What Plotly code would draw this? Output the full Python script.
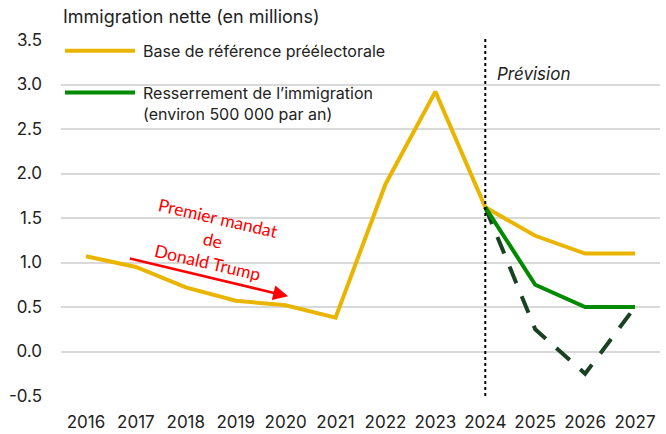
import plotly.graph_objects as go

years = list(range(2016, 2028))
year_labels = [str(y) for y in years]
baseline = [1.07, 0.95, 0.72, 0.57, 0.52, 0.38, 1.88, 2.92, 1.62, 1.30, 1.10, 1.10]
tight_years = [2024, 2025, 2026, 2027]
tight = [1.62, 0.75, 0.50, 0.50]
alt = [1.62, 0.25, -0.25, 0.50]
y_ticks = [-0.5, 0.0, 0.5, 1.0, 1.5, 2.0, 2.5, 3.0, 3.5]
y_ticktext = ["-0.5", "0.0", "0.5", "1.0", "1.5", "2.0", "2.5", "3.0", "3.5"]

YELLOW = "#EAB500"
GREEN = "#008A00"
DARK = "#1A4222"
FONT = "Inter, Roboto, sans-serif"

fig = go.Figure()
fig.add_trace(go.Scatter(x=years, y=baseline, mode="lines",
                         line=dict(color=YELLOW, width=4), showlegend=False))
fig.add_trace(go.Scatter(x=tight_years, y=alt, mode="lines",
                         line=dict(color=DARK, width=4, dash="18px,14px"), showlegend=False))
fig.add_trace(go.Scatter(x=tight_years, y=tight, mode="lines",
                         line=dict(color=GREEN, width=4), showlegend=False))

# forecast divider
fig.add_shape(type="line", xref="x", yref="paper", x0=2024, x1=2024, y0=0, y1=1.005,
              line=dict(color="black", width=2, dash="dot"))
fig.add_annotation(x=2024, y=3.12, xref="x", yref="y", text="<i>Prévision</i>",
                   showarrow=False, xanchor="left", xshift=10,
                   font=dict(family=FONT, size=17, color="#222"))

# manual legend
fig.add_shape(type="line", xref="paper", yref="y", x0=0.0067, x1=0.1235, y0=3.38, y1=3.38,
              line=dict(color=YELLOW, width=4))
fig.add_annotation(xref="paper", yref="y", x=0.1336, y=3.38, text="Base de référence préélectorale",
                   showarrow=False, xanchor="left", font=dict(family=FONT, size=16, color="#222"))
fig.add_shape(type="line", xref="paper", yref="y", x0=0.0067, x1=0.1235, y0=2.91, y1=2.91,
              line=dict(color=GREEN, width=4))
fig.add_annotation(xref="paper", yref="y", x=0.1336, y=2.91, yanchor="top", yshift=12,
                   text="Resserrement de l’immigration<br>(environ 500 000 par an)",
                   showarrow=False, xanchor="left", align="left",
                   font=dict(family=FONT, size=16, color="#222"))

# Trump annotation
fig.add_annotation(x=2020.05, y=0.62, ax=2016.85, ay=1.05, xref="x", yref="y", axref="x", ayref="y",
                   text="", showarrow=True, arrowhead=2, arrowsize=1.2, arrowwidth=2.5,
                   arrowcolor="#FF0000")
fig.add_annotation(x=2018.54, y=1.25, xref="x", yref="y",
                   text="Premier mandat<br>de<br>Donald Trump", showarrow=False, textangle=13,
                   font=dict(family="Lato, sans-serif", size=17.5, color="#FF0000"))

fig.update_layout(
    width=666, height=434,
    margin=dict(l=61, r=6, t=40, b=38),
    plot_bgcolor="white", paper_bgcolor="white",
    font=dict(family=FONT, size=17, color="#222"),
    title=dict(text="Immigration nette (en millions)", x=63/666, xanchor="left",
               y=1-17/434, yanchor="middle", font=dict(family=FONT, size=18, color="#222")),
)
fig.update_xaxes(range=[2015.5, 2027.5], tickvals=years, ticktext=year_labels,
                 showgrid=False, showline=False, ticks="", zeroline=False, automargin=False,
                 ticklabelstandoff=14, tickfont=dict(size=17))
fig.update_yaxes(range=[-0.5, 3.5], tickvals=y_ticks, ticktext=y_ticktext,
                 showgrid=True, gridcolor="#d9d9d9", gridwidth=1.5, zeroline=False,
                 automargin=False, ticks="", ticklabelstandoff=18, tickfont=dict(size=17))

fig.write_html("out.html")
